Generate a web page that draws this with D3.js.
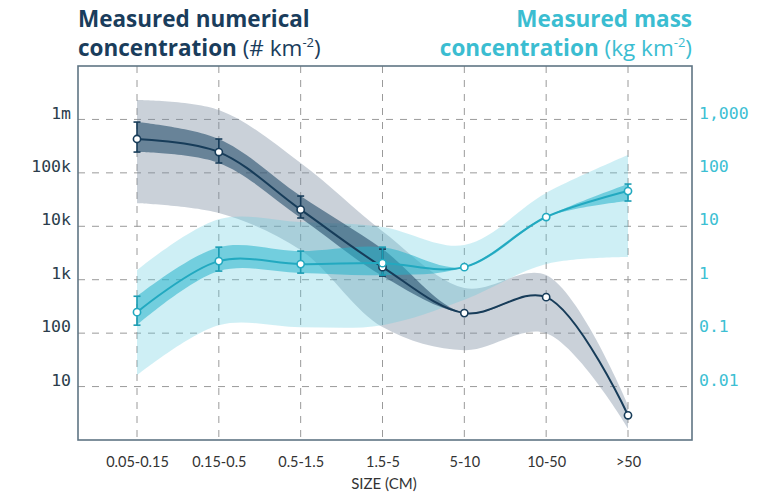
<!DOCTYPE html>
<html>
<head>
<meta charset="utf-8">
<script src="https://cdn.jsdelivr.net/npm/d3@7"></script>
<style>
  body { margin: 0; background: #fff; }
  svg { display: block; }
</style>
</head>
<body>
<svg id="chart" width="765" height="494"></svg>
<script>
// ---------- data ----------
const categories = ["0.05-0.15", "0.15-0.5", "0.5-1.5", "1.5-5", "5-10", "10-50", ">50"];

// numerical concentration (# km^-2), left axis
const numValues    = [430000, 245000, 20500, 1720, 237, 472, 2.9];
const numErrLow    = [245000, 153000, 14300, 1170, null, null, null];
const numErrHigh   = [893000, 430000, 36800, 3740, null, null, null];
const numRangeLow  = [27000, 17700, 3600, 130, 48, 100, 1.66];
const numRangeHigh = [2310000, 1500000, 153000, 8100, 700, 1220, 4.5];

// mass concentration (kg km^-2), right axis
const massValues    = [0.247, 2.23, 1.96, 2.04, 1.72, 14.9, 45.6];
const massErrLow    = [0.141, 1.45, 1.33, 1.22, null, null, 29.7];
const massErrHigh   = [0.49, 4.07, 3.43, 4.07, null, null, 61.7];
const massRangeLow  = [0.0163, 0.141, 0.129, 0.141, 0.42, 1.96, 2.65];
const massRangeHigh = [1.51, 13.6, 12, 9.7, 4.45, 41.9, 215];

const leftTicks = [10, 100, 1e3, 1e4, 1e5, 1e6];
const leftTickLabels = ["10", "100", "1k", "10k", "100k", "1m"];
const rightTicks = [0.01, 0.1, 1, 10, 100, 1000];
const rightTickLabels = ["0.01", "0.1", "1", "10", "100", "1,000"];

// ---------- layout ----------
const svg = d3.select("#chart");
const frame = { left: 78, right: 692, top: 66, bottom: 440 };

const x = d3.scalePoint().domain(categories).range([137, 628]);
const yL = d3.scaleLog().domain([1, 1e7]).range([frame.bottom, frame.top]);
const yR = d3.scaleLog().domain([1e-3, 1e4]).range([frame.bottom, frame.top]);

const navy = "#173c59";
const cyan = "#22a9c0";
const cyanText = "#3dbfd3";

// ---------- grid ----------
const grid = svg.append("g");
grid.selectAll("line.h").data(leftTicks).join("line")
  .attr("x1", frame.left).attr("x2", frame.right)
  .attr("y1", d => yL(d)).attr("y2", d => yL(d))
  .attr("stroke", "#9a9a9a").attr("stroke-width", 1).attr("stroke-dasharray", "7,7");
grid.selectAll("line.v").data(categories).join("line")
  .attr("x1", d => x(d)).attr("x2", d => x(d))
  .attr("y1", frame.top).attr("y2", frame.bottom)
  .attr("stroke", "#9a9a9a").attr("stroke-width", 1).attr("stroke-dasharray", "7,7");

// ---------- bands ----------
const curve = d3.curveCatmullRom.alpha(0.5);
const idx = d3.range(categories.length);

function band(scale, lo, hi) {
  return d3.area().curve(curve)
    .x(i => x(categories[i]))
    .y0(i => scale(lo[i]))
    .y1(i => scale(hi[i]));
}
const numInnerLow = numErrLow.map((v, i) => v == null ? numValues[i] : v);
const numInnerHigh = numErrHigh.map((v, i) => v == null ? numValues[i] : v);
const massInnerLow = massErrLow.map((v, i) => v == null ? massValues[i] : v);
const massInnerHigh = massErrHigh.map((v, i) => v == null ? massValues[i] : v);

svg.append("path").datum(idx).attr("d", band(yL, numRangeLow, numRangeHigh))
  .attr("fill", "#7b8da0").attr("fill-opacity", 0.4);
svg.append("path").datum(idx).attr("d", band(yR, massRangeLow, massRangeHigh))
  .attr("fill", "#5ccbde").attr("fill-opacity", 0.3);
svg.append("path").datum(idx).attr("d", band(yL, numInnerLow, numInnerHigh))
  .attr("fill", "#2c5370").attr("fill-opacity", 0.62);
svg.append("path").datum(idx).attr("d", band(yR, massInnerLow, massInnerHigh))
  .attr("fill", "#27b2ca").attr("fill-opacity", 0.55);

// ---------- lines ----------
function line(scale, vals) {
  return d3.line().curve(curve).x(i => x(categories[i])).y(i => scale(vals[i]));
}
svg.append("path").datum(idx).attr("d", line(yL, numValues))
  .attr("fill", "none").attr("stroke", navy).attr("stroke-width", 2);
svg.append("path").datum(idx).attr("d", line(yR, massValues))
  .attr("fill", "none").attr("stroke", cyan).attr("stroke-width", 2);

// ---------- error bars ----------
function errorBars(scale, lo, hi, color) {
  const g = svg.append("g").attr("stroke", color).attr("stroke-width", 1.6);
  const d = idx.filter(i => lo[i] != null);
  g.selectAll("line.s").data(d).join("line")
    .attr("x1", i => x(categories[i])).attr("x2", i => x(categories[i]))
    .attr("y1", i => scale(lo[i])).attr("y2", i => scale(hi[i]));
  g.selectAll("line.t").data(d).join("line")
    .attr("x1", i => x(categories[i]) - 3.5).attr("x2", i => x(categories[i]) + 3.5)
    .attr("y1", i => scale(hi[i])).attr("y2", i => scale(hi[i]));
  g.selectAll("line.b").data(d).join("line")
    .attr("x1", i => x(categories[i]) - 3.5).attr("x2", i => x(categories[i]) + 3.5)
    .attr("y1", i => scale(lo[i])).attr("y2", i => scale(lo[i]));
}
errorBars(yL, numErrLow, numErrHigh, navy);
errorBars(yR, massErrLow, massErrHigh, "#1a9cb3");

// ---------- points ----------
svg.append("g").selectAll("circle").data(idx).join("circle")
  .attr("cx", i => x(categories[i])).attr("cy", i => yL(numValues[i])).attr("r", 3.6)
  .attr("fill", "#fff").attr("stroke", navy).attr("stroke-width", 1.6);
svg.append("g").selectAll("circle").data(idx).join("circle")
  .attr("cx", i => x(categories[i])).attr("cy", i => yR(massValues[i])).attr("r", 3.6)
  .attr("fill", "#fff").attr("stroke", cyan).attr("stroke-width", 1.6);

// ---------- frame ----------
svg.append("rect")
  .attr("x", frame.left).attr("y", frame.top)
  .attr("width", frame.right - frame.left).attr("height", frame.bottom - frame.top)
  .attr("fill", "none").attr("stroke", "#5f7584").attr("stroke-width", 1.6);

// ---------- axes ----------
const monoFont = "'DejaVu Sans Mono', monospace";
const axL = svg.append("g").attr("transform", `translate(${frame.left},0)`)
  .call(d3.axisLeft(yL).tickValues(leftTicks)
    .tickFormat((d, i) => leftTickLabels[i]).tickSize(0).tickPadding(7));
axL.select(".domain").remove();
axL.selectAll("text").attr("dy", "-0.08em").attr("font-family", monoFont)
  .attr("font-size", 16.5).attr("fill", "#2b3d4b");

const axR = svg.append("g").attr("transform", `translate(${frame.right},0)`)
  .call(d3.axisRight(yR).tickValues(rightTicks)
    .tickFormat((d, i) => rightTickLabels[i]).tickSize(0).tickPadding(7));
axR.select(".domain").remove();
axR.selectAll("text").attr("dy", "-0.08em").attr("font-family", monoFont)
  .attr("font-size", 16.5).attr("fill", cyanText);

const sansFont = "Lato, 'Open Sans', sans-serif";
const titleFont = "'Open Sans', Lato, sans-serif";
const axB = svg.append("g").attr("transform", `translate(0,${frame.bottom})`)
  .call(d3.axisBottom(x).tickSize(0).tickPadding(22));
axB.select(".domain").remove();
axB.selectAll("text").attr("font-family", sansFont).attr("font-size", 14.5)
  .attr("fill", "#333").attr("dy", "0.32em");

svg.append("text").attr("x", 384).attr("y", 489).attr("text-anchor", "middle")
  .attr("font-family", sansFont).attr("font-size", 15).attr("fill", "#333")
  .text("SIZE (CM)");

// ---------- titles ----------
function title(xPos, anchor, color, line1, line2bold, line2rest) {
  svg.append("text").attr("x", xPos).attr("y", 27).attr("text-anchor", anchor)
    .attr("font-family", titleFont).attr("font-weight", 700).attr("font-size", 22.5)
    .attr("fill", color).text(line1);
  const t2 = svg.append("text").attr("x", xPos).attr("y", 56).attr("text-anchor", anchor)
    .attr("font-family", titleFont).attr("font-size", 22.5).attr("fill", color);
  t2.append("tspan").attr("font-weight", 700).text(line2bold);
  t2.append("tspan").attr("font-weight", 400).text(" " + line2rest);
  t2.append("tspan").attr("font-weight", 400).attr("font-size", 13).attr("dy", -9).text("-2");
  t2.append("tspan").attr("font-weight", 400).attr("dy", 9).text(")");
}
title(frame.left, "start", "#1a3d5c", "Measured numerical", "concentration", "(# km");
title(frame.right, "end", "#3bbdd1", "Measured mass", "concentration", "(kg km");
</script>
</body>
</html>
